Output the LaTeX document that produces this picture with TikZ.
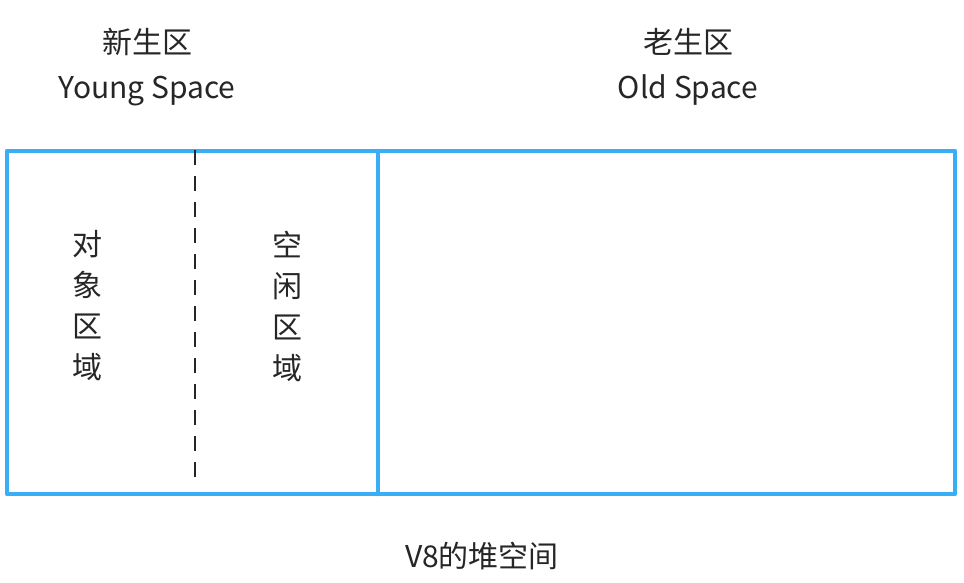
\documentclass[tikz,border=0pt]{standalone}
\usepackage{fontspec}
\setmainfont{Noto Sans CJK SC}
\tikzstyle{heap} = [draw,line width=4.5pt,color={rgb,255:red,58;green,174;blue,245},line join=round,line cap=round]
\tikzstyle{split} = [draw,line width=2pt,dash pattern=on 15pt off 11pt,black!85]
\tikzstyle{title} = [font=\fontsize{30}{45}\selectfont,align=center,text=black!85]
\tikzstyle{area} = [font=\fontsize{30}{41}\selectfont,align=center,text=black!85]

\begin{document}
\begin{tikzpicture}[x=1pt,y=-1pt]
    \useasboundingbox (0,0) rectangle (964,582);

    % corners of the heap
    \coordinate (nw) at (7,151);
    \coordinate (se) at (955,494);
    \coordinate (mtop) at (378,151);
    \coordinate (mbot) at (378,494);
    \coordinate (dtop) at (195,150);
    \coordinate (dbot) at (195,482);

    \foreach \nodename/\text/\x/\y in {
      young/新生区\\Young Space/147/67,
      old/老生区\\Old Space/688/67,
      heapname/V8的堆空间/482/556}
    {
      \node[title] (\nodename) at (\x,\y) {\text};
    }

    \foreach \nodename/\text/\x in {
      used/对\\象\\区\\域/87,
      free/空\\闲\\区\\域/287}
    {
      \node[area] (\nodename) at (\x,306) {\text};
    }

    %box and lines
    \path[heap] (nw) rectangle (se);
    \path[heap] (mtop) -- (mbot);
    \path[split] (dtop) -- (dbot);
  \end{tikzpicture}
\end{document}
